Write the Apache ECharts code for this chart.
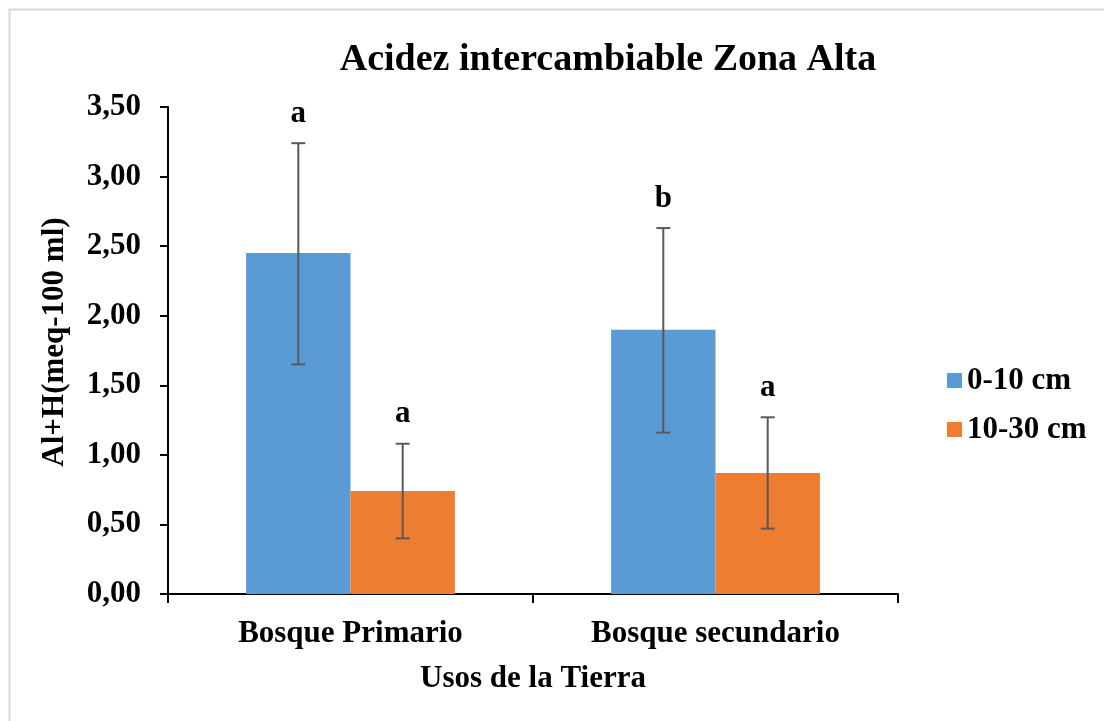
<!DOCTYPE html>
<html>
<head>
<meta charset="utf-8">
<script src="https://cdn.jsdelivr.net/npm/echarts@6/dist/echarts.min.js"></script>
<style>html,body{margin:0;padding:0;background:#fff}#c{width:1104px;height:721px}</style>
</head>
<body>
<div id="c"></div>
<script>
var categories = ['Bosque Primario', 'Bosque secundario'];
var seriesNames = ['0-10 cm', '10-30 cm'];
var values0to10 = [2.45, 1.90];
var values10to30 = [0.74, 0.87];
var errLow0to10 = [1.65, 1.16];
var errHigh0to10 = [3.24, 2.63];
var errLow10to30 = [0.40, 0.47];
var errHigh10to30 = [1.08, 1.27];
var letters0to10 = ['a', 'b'];
var letters10to30 = ['a', 'a'];
var yTicks = [0, 0.5, 1, 1.5, 2, 2.5, 3, 3.5];

var FONT = '"Liberation Serif", "Times New Roman", serif';
var BAR_FRAC = 0.286;

function errSeries(idx, lows, highs, lets) {
  var data = categories.map(function (c, i) { return [i, lows[i], highs[i], lets[i]]; });
  return {
    type: 'custom',
    data: data,
    z: 10,
    silent: true,
    encode: { x: 0, y: [1, 2] },
    renderItem: function (params, api) {
      var bw = api.size([1, 0])[0] * BAR_FRAC;
      var off = (idx === 0 ? -1 : 1) * bw / 2;
      var lo = api.coord([api.value(0), api.value(1)]);
      var hi = api.coord([api.value(0), api.value(2)]);
      var x = lo[0] + off;
      var cap = 7;
      var st = { stroke: '#595959', lineWidth: 2 };
      return {
        type: 'group',
        children: [
          { type: 'line', shape: { x1: x, y1: lo[1], x2: x, y2: hi[1] }, style: st },
          { type: 'line', shape: { x1: x - cap, y1: lo[1], x2: x + cap, y2: lo[1] }, style: st },
          { type: 'line', shape: { x1: x - cap, y1: hi[1], x2: x + cap, y2: hi[1] }, style: st },
          { type: 'text', x: x, y: hi[1] - 14, style: { text: api.value(3), fontFamily: FONT, fontWeight: 'bold', fontSize: 31, fill: '#000', align: 'center', verticalAlign: 'bottom' } }
        ]
      };
    }
  };
}

var chart = echarts.init(document.getElementById('c'));
chart.setOption({
  animation: false,
  backgroundColor: '#fff',
  title: {
    text: 'Acidez intercambiable Zona Alta',
    left: 603, top: 36, textAlign: 'center',
    textStyle: { fontFamily: FONT, fontWeight: 'bold', fontSize: 38, color: '#000' }
  },
  legend: {
    orient: 'vertical', left: 942, top: 360,
    itemWidth: 15, itemHeight: 15, itemGap: 18, icon: 'rect',
    textStyle: { fontFamily: FONT, fontWeight: 'bold', fontSize: 31, color: '#000' },
    data: seriesNames
  },
  grid: { left: 168, right: 206, top: 107, bottom: 127 },
  xAxis: {
    type: 'category', data: categories,
    axisLine: { lineStyle: { color: '#000', width: 2 } },
    axisTick: { show: true, length: 9, lineStyle: { color: '#000', width: 2 } },
    axisLabel: { margin: 24, fontFamily: FONT, fontWeight: 'bold', fontSize: 31, color: '#000' },
    name: 'Usos de la Tierra', nameLocation: 'middle', nameGap: 69,
    nameTextStyle: { fontFamily: FONT, fontWeight: 'bold', fontSize: 31, color: '#000' }
  },
  yAxis: {
    type: 'value', min: 0, max: 3.5, interval: 0.5,
    axisLine: { show: true, lineStyle: { color: '#000', width: 2 } },
    axisTick: { show: true, length: 8, lineStyle: { color: '#000', width: 2 } },
    splitLine: { show: false },
    axisLabel: {
      margin: 27, fontFamily: FONT, fontWeight: 'bold', fontSize: 31, color: '#000',
      formatter: function (v) { return v.toFixed(2).replace('.', ','); }
    }
  },
  graphic: [
    { type: 'rect', left: 7, top: 7, shape: { width: 1200, height: 800 }, style: { fill: 'none', stroke: '#d9d9d9', lineWidth: 2 }, z: -1 },
    { type: 'text', x: 55, y: 342, rotation: Math.PI / 2, style: { text: 'Al+H(meq-100 ml)', fontFamily: FONT, fontWeight: 'bold', fontSize: 31, fill: '#000', align: 'center', verticalAlign: 'middle' } }
  ],
  series: [
    { name: seriesNames[0], type: 'bar', data: values0to10, barWidth: (BAR_FRAC * 100) + '%', barGap: '0%', itemStyle: { color: '#5b9bd5' } },
    { name: seriesNames[1], type: 'bar', data: values10to30, barWidth: (BAR_FRAC * 100) + '%', barGap: '0%', itemStyle: { color: '#ed7d31' } },
    errSeries(0, errLow0to10, errHigh0to10, letters0to10),
    errSeries(1, errLow10to30, errHigh10to30, letters10to30)
  ]
});
</script>
</body>
</html>
